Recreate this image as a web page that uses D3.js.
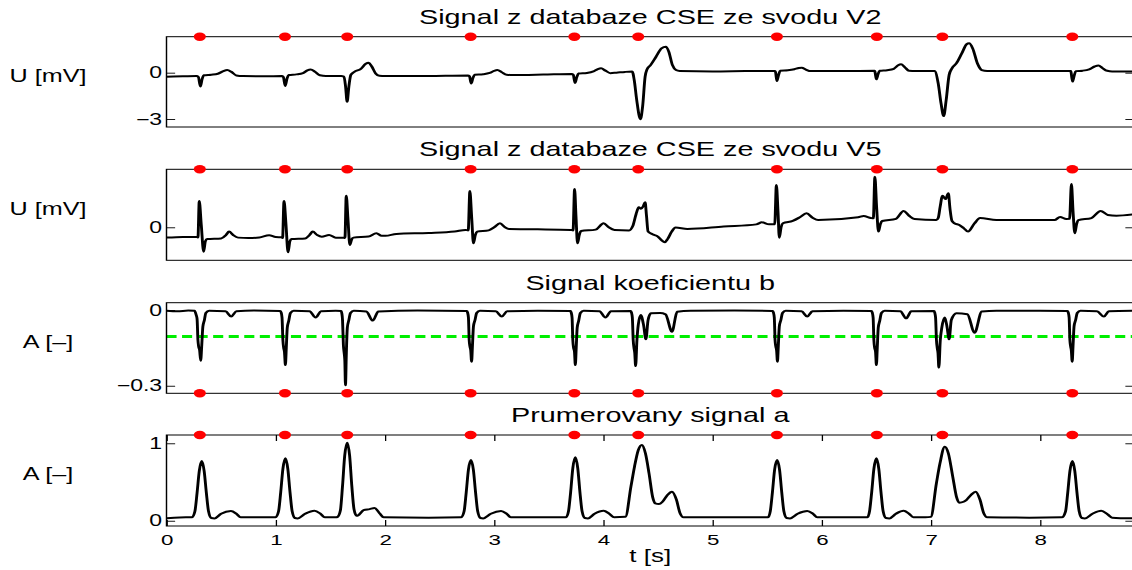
<!DOCTYPE html>
<html>
<head>
<meta charset="utf-8">
<script src="https://cdn.jsdelivr.net/npm/d3@7"></script>
<style>
  body { margin: 0; background: #fff; }
  svg { display: block; }
</style>
</head>
<body>
<svg id="chart" width="1132" height="570"></svg>
<script>
// //////// DATA

// Time of detected beats [s] (red markers)
const beatTimes = [0.305, 1.085, 1.655, 2.785, 3.735, 4.32, 5.59, 6.505, 7.105, 8.295];

// Lead V2 [mV] as [t, U]
const leadV2 = [
  [0, -0.26], [0.15, -0.24], [0.275, -0.22],
  [0.292, -0.28], [0.31, -0.9], [0.326, -0.42], [0.342, -0.17], [0.41, -0.13], [0.47, -0.07], [0.52, 0.1], [0.556, 0.17], [0.595, 0.05], [0.64, -0.18], [0.7, -0.22],
  [0.9, -0.23], [1.055, -0.22],
  [1.07, -0.28], [1.087, -0.86], [1.103, -0.4], [1.12, -0.15], [1.19, -0.11], [1.25, -0.03], [1.29, 0.15], [1.32, 0.2], [1.36, 0.06], [1.405, -0.17], [1.46, -0.22],
  [1.6, -0.22], [1.625, -0.25], [1.64, -0.9], [1.654, -1.88], [1.67, -0.9], [1.688, -0.15], [1.72, 0.05], [1.78, 0.25], [1.825, 0.58], [1.85, 0.65], [1.88, 0.4], [1.915, -0.05], [1.95, -0.2], [2.0, -0.22],
  [2.4, -0.21], [2.76, -0.18],
  [2.775, -0.24], [2.79, -0.7], [2.806, -0.35], [2.822, -0.13], [2.9, -0.1], [2.96, -0.02], [3.0, 0.12], [3.03, 0.17], [3.07, 0.03], [3.115, -0.13], [3.17, -0.15],
  [3.45, -0.12], [3.71, -0.08],
  [3.725, -0.14], [3.741, -0.66], [3.757, -0.3], [3.773, -0.06], [3.85, -0.02], [3.91, 0.08], [3.95, 0.23], [3.98, 0.28], [4.02, 0.13], [4.065, -0.03], [4.12, 0.0], [4.2, 0.05],
  [4.265, 0.07], [4.283, -0.47], [4.306, -1.77], [4.34, -3.02], [4.36, -2.2], [4.383, -0.26], [4.4, 0.21], [4.433, 0.49], [4.483, 1.03], [4.533, 1.57], [4.573, 1.68], [4.6, 1.36], [4.633, 0.49], [4.666, 0.17], [4.7, 0.11],
  [5.0, 0.08], [5.3, 0.1], [5.573, 0.11],
  [5.577, 0.05], [5.59, -0.54], [5.605, -0.15], [5.62, 0.12], [5.69, 0.15], [5.75, 0.22], [5.79, 0.3], [5.818, 0.32], [5.855, 0.2], [5.9, 0.1], [5.95, 0.1],
  [6.2, 0.1], [6.485, 0.12],
  [6.488, 0.05], [6.501, -0.43], [6.516, -0.1], [6.531, 0.12], [6.6, 0.16], [6.66, 0.25], [6.7, 0.48], [6.727, 0.54], [6.76, 0.36], [6.8, 0.12], [6.86, 0.1],
  [7.0, 0.1], [7.033, 0.11], [7.067, -0.69], [7.093, -1.99], [7.117, -2.81], [7.14, -1.77], [7.167, -0.15], [7.193, 0.28], [7.233, 0.6], [7.283, 1.25], [7.327, 1.84], [7.35, 1.9], [7.383, 1.57], [7.426, 0.6], [7.466, 0.17], [7.516, 0.11],
  [7.8, 0.1], [8.1, 0.11], [8.28, 0.1],
  [8.283, 0.05], [8.297, -0.58], [8.312, -0.2], [8.327, 0.1], [8.39, 0.13], [8.45, 0.22], [8.5, 0.4], [8.535, 0.46], [8.57, 0.3], [8.615, 0.12], [8.66, 0.08],
  [8.86, 0.08],
];

// Lead V5 [mV] as [t, U]
const leadV5 = [
  [0, -0.67], [0.15, -0.63], [0.283, -0.61],
  [0.288, -0.66], [0.3, 1.7], [0.318, 0.2], [0.34, -1.58], [0.356, -0.9], [0.373, -0.76], [0.5, -0.72], [0.545, -0.5], [0.573, -0.28], [0.61, -0.5], [0.656, -0.67], [0.75, -0.7], [0.85, -0.66], [0.94, -0.52], [1.0, -0.63], [1.058, -0.65],
  [1.063, -0.7], [1.076, 1.7], [1.094, 0.2], [1.113, -1.62], [1.13, -0.9], [1.146, -0.76], [1.27, -0.72], [1.31, -0.5], [1.339, -0.28], [1.38, -0.5], [1.422, -0.61], [1.489, -0.5], [1.55, -0.67], [1.628, -0.67],
  [1.634, -0.7], [1.646, 2.05], [1.662, 0.5], [1.679, -1.15], [1.695, -0.8], [1.712, -0.67], [1.85, -0.6], [1.922, -0.39], [1.97, -0.55], [2.005, -0.55], [2.105, -0.43], [2.4, -0.37], [2.638, -0.28], [2.738, -0.17], [2.763, -0.2],
  [2.778, 2.35], [2.795, 0.6], [2.811, -1.04], [2.828, -0.5], [2.844, -0.28], [2.95, -0.2], [3.0, 0.0], [3.054, 0.26], [3.1, 0.0], [3.137, -0.11], [3.4, -0.13], [3.703, -0.17], [3.723, -0.2],
  [3.737, 2.48], [3.75, 0.7], [3.764, -1.04], [3.78, -0.5], [3.797, -0.24], [3.93, -0.15], [4.003, 0.26], [4.05, 0.0], [4.103, -0.17], [4.236, -0.2],
  [4.27, 0.08], [4.3, 0.85], [4.325, 1.3], [4.345, 1.2], [4.365, 1.35], [4.383, 1.62], [4.395, 0.8], [4.41, -0.28], [4.45, -0.45], [4.5, -0.6], [4.535, -0.85], [4.562, -0.97], [4.59, -0.75], [4.625, -0.3], [4.662, -0.02], [4.77, -0.11], [5.102, 0.05], [5.402, 0.19], [5.452, 0.32], [5.518, 0.19], [5.57, 0.2],
  [5.585, 2.74], [5.6, 1.0], [5.612, -0.67], [5.628, 0.0], [5.645, 0.26], [5.735, 0.41], [5.8, 0.65], [5.861, 0.91], [5.92, 0.6], [5.968, 0.47], [6.334, 0.65], [6.384, 0.73], [6.451, 0.6], [6.473, 0.58],
  [6.487, 3.28], [6.503, 1.3], [6.52, -0.28], [6.537, 0.2], [6.554, 0.41], [6.68, 0.55], [6.75, 1.06], [6.8, 0.75], [6.85, 0.54], [7.05, 0.47],
  [7.067, 0.6], [7.085, 1.34], [7.106, 2.05], [7.134, 1.83], [7.16, 2.2], [7.175, 1.2], [7.193, 0.41], [7.216, 0.26], [7.26, 0.15], [7.3, -0.05], [7.34, -0.28], [7.4, 0.26], [7.45, 0.6], [7.6, 0.47], [8.132, 0.47], [8.183, 0.67], [8.24, 0.54], [8.27, 0.55],
  [8.287, 2.8], [8.302, 1.0], [8.318, -0.39], [8.334, 0.2], [8.351, 0.47], [8.47, 0.6], [8.555, 1.06], [8.62, 0.8], [8.699, 0.75], [8.86, 0.84],
];

// Coefficient b [-] as [t, A]
const coefB = [
  [0, -0.003], [0.1, -0.005], [0.2, -0.002], [0.257, -0.003],
  [0.272, -0.02], [0.28, -0.035], [0.288, -0.12], [0.295, -0.146], [0.303, -0.158], [0.313, -0.201], [0.322, -0.146], [0.333, -0.066], [0.347, -0.04], [0.36, -0.012], [0.39, -0.003],
  [0.54, -0.005], [0.593, -0.026], [0.64, -0.005], [0.8, -0.002], [1.04, -0.004],
  [1.05, -0.01], [1.058, -0.03], [1.066, -0.12], [1.073, -0.15], [1.08, -0.165], [1.089, -0.218], [1.097, -0.15], [1.106, -0.07], [1.12, -0.042], [1.135, -0.012], [1.165, -0.003],
  [1.31, -0.005], [1.366, -0.03], [1.415, -0.005], [1.55, -0.003], [1.6, -0.004],
  [1.605, -0.012], [1.612, -0.04], [1.62, -0.14], [1.627, -0.17], [1.633, -0.2], [1.639, -0.298], [1.647, -0.17], [1.656, -0.07], [1.67, -0.04], [1.685, -0.012], [1.715, -0.003],
  [1.83, -0.006], [1.889, -0.042], [1.94, -0.006], [2.3, -0.002], [2.75, -0.004],
  [2.757, -0.01], [2.765, -0.03], [2.772, -0.12], [2.779, -0.145], [2.786, -0.16], [2.794, -0.205], [2.802, -0.14], [2.811, -0.065], [2.825, -0.04], [2.84, -0.012], [2.87, -0.003],
  [3.015, -0.005], [3.071, -0.026], [3.12, -0.005], [3.4, -0.003], [3.7, -0.004],
  [3.706, -0.01], [3.714, -0.03], [3.721, -0.12], [3.728, -0.15], [3.736, -0.165], [3.744, -0.218], [3.752, -0.15], [3.761, -0.07], [3.775, -0.042], [3.79, -0.012], [3.82, -0.003],
  [3.965, -0.005], [4.02, -0.03], [4.07, -0.005], [4.25, -0.004],
  [4.258, -0.01], [4.266, -0.03], [4.274, -0.12], [4.281, -0.15], [4.288, -0.17], [4.296, -0.222], [4.308, -0.12], [4.32, -0.06], [4.343, -0.02], [4.369, -0.06], [4.39, -0.116], [4.41, -0.04], [4.436, -0.013], [4.52, -0.012], [4.57, -0.017], [4.629, -0.086], [4.676, -0.007], [4.8, -0.003],
  [5.2, -0.002], [5.55, -0.004],
  [5.558, -0.01], [5.566, -0.03], [5.573, -0.12], [5.58, -0.145], [5.587, -0.16], [5.595, -0.205], [5.603, -0.14], [5.612, -0.065], [5.626, -0.04], [5.641, -0.012], [5.67, -0.003],
  [5.815, -0.005], [5.868, -0.026], [5.915, -0.005], [6.2, -0.003], [6.455, -0.004],
  [6.463, -0.01], [6.471, -0.03], [6.478, -0.12], [6.485, -0.15], [6.493, -0.165], [6.501, -0.218], [6.509, -0.15], [6.518, -0.07], [6.532, -0.042], [6.547, -0.012], [6.577, -0.003],
  [6.72, -0.005], [6.774, -0.033], [6.82, -0.005], [7.03, -0.004],
  [7.035, -0.01], [7.043, -0.03], [7.051, -0.12], [7.058, -0.15], [7.065, -0.17], [7.073, -0.228], [7.086, -0.12], [7.1, -0.07], [7.127, -0.03], [7.147, -0.065], [7.167, -0.116], [7.187, -0.04], [7.234, -0.013], [7.334, -0.017], [7.4, -0.09], [7.466, -0.006], [7.6, -0.003],
  [8.0, -0.003], [8.25, -0.004],
  [8.258, -0.01], [8.266, -0.03], [8.273, -0.12], [8.28, -0.145], [8.286, -0.16], [8.294, -0.205], [8.302, -0.14], [8.311, -0.065], [8.325, -0.04], [8.34, -0.012], [8.37, -0.003],
  [8.52, -0.005], [8.585, -0.026], [8.63, -0.005], [8.86, -0.003],
];

// Averaged signal a [-] as [t, A]
const avgA = [
  [0, 0.031], [0.12, 0.042], [0.235, 0.045],
  [0.26, 0.12], [0.28, 0.36], [0.3, 0.64], [0.323, 0.771], [0.345, 0.64], [0.365, 0.36], [0.385, 0.12], [0.41, 0.035], [0.44, 0.03], [0.5, 0.09], [0.59, 0.125], [0.64, 0.09], [0.68, 0.044],
  [0.9, 0.044], [1.0, 0.045],
  [1.026, 0.12], [1.046, 0.37], [1.066, 0.67], [1.089, 0.806], [1.111, 0.67], [1.131, 0.37], [1.151, 0.12], [1.176, 0.035], [1.2, 0.03], [1.27, 0.09], [1.355, 0.129], [1.41, 0.09], [1.45, 0.044],
  [1.55, 0.044], [1.567, 0.05],
  [1.592, 0.13], [1.612, 0.45], [1.632, 0.84], [1.655, 1.008], [1.677, 0.84], [1.697, 0.45], [1.717, 0.15], [1.74, 0.065], [1.755, 0.07], [1.805, 0.137], [1.86, 0.15], [1.905, 0.163], [1.955, 0.09], [1.988, 0.044],
  [2.4, 0.04], [2.7, 0.045],
  [2.725, 0.12], [2.745, 0.37], [2.765, 0.66], [2.788, 0.784], [2.81, 0.66], [2.83, 0.37], [2.85, 0.12], [2.875, 0.035], [2.9, 0.03], [2.97, 0.09], [3.064, 0.125], [3.115, 0.09], [3.155, 0.044],
  [3.5, 0.044], [3.66, 0.045],
  [3.681, 0.12], [3.701, 0.37], [3.721, 0.68], [3.744, 0.819], [3.766, 0.68], [3.786, 0.37], [3.806, 0.12], [3.831, 0.035], [3.86, 0.03], [3.92, 0.09], [4.003, 0.129], [4.055, 0.09], [4.1, 0.044], [4.203, 0.05],
  [4.253, 0.44], [4.286, 0.7], [4.32, 0.91], [4.353, 0.978], [4.386, 0.87], [4.419, 0.61], [4.453, 0.3], [4.476, 0.224], [4.51, 0.215], [4.542, 0.245], [4.586, 0.33], [4.629, 0.375], [4.67, 0.27], [4.702, 0.1], [4.735, 0.044],
  [5.2, 0.044], [5.51, 0.045],
  [5.529, 0.12], [5.549, 0.37], [5.569, 0.66], [5.592, 0.784], [5.614, 0.66], [5.634, 0.37], [5.654, 0.12], [5.679, 0.035], [5.71, 0.03], [5.78, 0.09], [5.868, 0.125], [5.92, 0.09], [5.96, 0.044],
  [6.3, 0.044], [6.42, 0.045],
  [6.438, 0.12], [6.458, 0.37], [6.478, 0.67], [6.501, 0.806], [6.523, 0.67], [6.543, 0.37], [6.563, 0.12], [6.588, 0.035], [6.62, 0.03], [6.68, 0.09], [6.75, 0.129], [6.8, 0.09], [6.84, 0.044],
  [6.95, 0.044], [7.0, 0.05],
  [7.05, 0.48], [7.083, 0.74], [7.127, 0.956], [7.16, 0.87], [7.2, 0.57], [7.234, 0.31], [7.26, 0.233], [7.3, 0.245], [7.327, 0.27], [7.366, 0.33], [7.41, 0.375], [7.45, 0.27], [7.483, 0.1], [7.517, 0.044],
  [7.9, 0.04], [8.2, 0.045],
  [8.233, 0.12], [8.253, 0.36], [8.273, 0.64], [8.296, 0.77], [8.318, 0.64], [8.338, 0.36], [8.358, 0.12], [8.383, 0.035], [8.41, 0.03], [8.48, 0.09], [8.56, 0.129], [8.62, 0.08], [8.66, 0.04], [8.86, 0.031],
];

// Detection threshold for coefficient b
const thresholdB = -0.105;

// Axis limits and ticks
const timeRange = [0, 8.86];
const timeTicks = [0, 1, 2, 3, 4, 5, 6, 7, 8];
const rangeV2 = [-3.52, 2.33];
const ticksV2 = [-3, 0];
const rangeV5 = [-2.14, 3.76];
const ticksV5 = [0];
const rangeB = [-0.33, 0.029];
const ticksB = [-0.3, 0];
const rangeA = [-0.068, 1.107];
const ticksA = [0, 1];

// Texts
const titles = [
  "Signal z databaze CSE ze svodu V2",
  "Signal z databaze CSE ze svodu V5",
  "Signal koeficientu b",
  "Prumerovany signal a",
];
const yLabels = ["U [mV]", "U [mV]", "A [\u2013]", "A [\u2013]"];
const xLabel = "t [s]";

// //////// LAYOUT

// The original figure is stretched horizontally, everything is drawn in a
// narrower space and scaled on x
const SX = 1.44;
const FONT = '"Liberation Sans", Arial, Helvetica, sans-serif';
const TICK = 6;
const fmt = d3.format("~g");

const panels = [
  { data: leadV2, range: rangeV2, ticks: ticksV2, top: 36.7, bottom: 127, dots: "top" },
  { data: leadV5, range: rangeV5, ticks: ticksV5, top: 169.3, bottom: 260.3, dots: "top" },
  { data: coefB, range: rangeB, ticks: ticksB, top: 302.7, bottom: 393.3, dots: "bottom", threshold: thresholdB },
  { data: avgA, range: rangeA, ticks: ticksA, top: 435, bottom: 526, dots: "top", timeAxis: true },
];

const svg = d3.select("#chart");
const root = svg.append("g").attr("transform", `scale(${SX},1)`);

const x = d3.scaleLinear().domain(timeRange).range([166.5 / SX, 1134 / SX]);
const [x0, x1] = x.range();

// //////// FUNCTIONS

function styleAxis(sel, size) {
  sel.attr("font-family", FONT).attr("font-size", size);
  sel.select(".domain").remove();
  sel.selectAll(".tick line").attr("stroke", "#000").attr("stroke-width", 0.9);
  sel.selectAll(".tick text").attr("fill", "#000");
}

function drawPanel(p, i) {
  const y = d3.scaleLinear().domain(p.range).range([p.bottom, p.top]);
  const g = root.append("g");

  // Ticks on both sides, pointing inside
  g.append("g")
    .attr("transform", `translate(${x0},0)`)
    .call(d3.axisLeft(y).tickValues(p.ticks).tickSizeInner(-TICK).tickSizeOuter(0).tickPadding(3).tickFormat(fmt))
    .call(styleAxis, 16);

  g.append("g")
    .attr("transform", `translate(${x1},0)`)
    .call(d3.axisRight(y).tickValues(p.ticks).tickSizeInner(-TICK).tickSizeOuter(0).tickFormat(() => ""))
    .call(styleAxis, 16);

  if (p.timeAxis) {
    g.append("g")
      .attr("transform", `translate(0,${p.bottom})`)
      .call(d3.axisBottom(x).tickValues(timeTicks).tickSizeInner(-TICK).tickSizeOuter(0).tickPadding(8.5).tickFormat(fmt))
      .call(styleAxis, 15.5);
    g.append("g")
      .attr("transform", `translate(0,${p.top})`)
      .call(d3.axisTop(x).tickValues(timeTicks).tickSizeInner(-TICK).tickSizeOuter(0).tickFormat(() => ""))
      .call(styleAxis, 15.5);
  }

  // Threshold line
  if (p.threshold !== undefined) {
    g.append("line")
      .attr("x1", x0)
      .attr("x2", x1)
      .attr("y1", y(p.threshold))
      .attr("y2", y(p.threshold))
      .attr("stroke", "#00ee00")
      .attr("stroke-width", 3)
      .attr("stroke-dasharray", "7,3.8");
  }

  // Signal
  const line = d3
    .line()
    .x((d) => x(d[0]))
    .y((d) => y(d[1]))
    .curve(d3.curveMonotoneX);

  g.append("path")
    .datum(p.data)
    .attr("d", line)
    .attr("fill", "none")
    .attr("stroke", "#000")
    .attr("stroke-width", 2)
    .attr("stroke-linejoin", "round");

  // Box
  g.append("rect")
    .attr("x", x0)
    .attr("y", p.top)
    .attr("width", x1 - x0)
    .attr("height", p.bottom - p.top)
    .attr("fill", "none")
    .attr("stroke", "#000")
    .attr("stroke-width", 1);

  // Beat markers on the border
  const dotY = p.dots === "top" ? p.top : p.bottom;
  g.append("g")
    .selectAll("circle")
    .data(beatTimes)
    .join("circle")
    .attr("cx", (d) => x(d))
    .attr("cy", dotY)
    .attr("r", 4.2)
    .attr("fill", "#ff0000");

  // Title and y label
  g.append("text")
    .attr("x", (x0 + 1134 / SX) / 2)
    .attr("y", p.top - 13)
    .attr("text-anchor", "middle")
    .attr("font-family", FONT)
    .attr("font-size", 20)
    .text(titles[i]);

  g.append("text")
    .attr("x", 48 / SX)
    .attr("y", (p.top + p.bottom) / 2)
    .attr("text-anchor", "middle")
    .attr("font-family", FONT)
    .attr("font-size", 17.5)
    .text(yLabels[i]);

  if (p.timeAxis) {
    g.append("text")
      .attr("x", (x0 + 1134 / SX) / 2)
      .attr("y", 562)
      .attr("text-anchor", "middle")
      .attr("font-family", FONT)
      .attr("font-size", 18)
      .text(xLabel);
  }
}

panels.forEach(drawPanel);
</script>
</body>
</html>
